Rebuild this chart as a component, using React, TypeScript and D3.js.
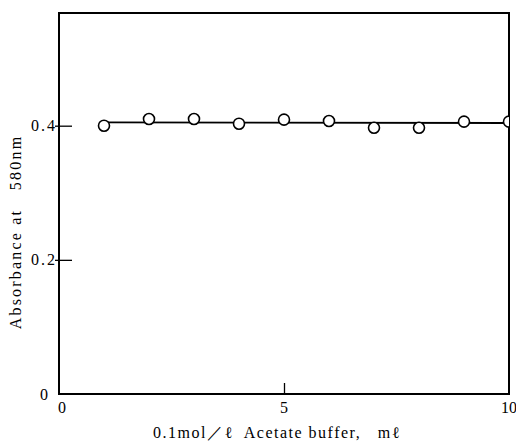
import React, { useEffect, useRef } from 'react';
import * as d3 from 'd3';

// buffer volume (ml) and absorbance at 580nm
const volumes = [1, 2, 3, 4, 5, 6, 7, 8, 9, 10];
const absorbance = [0.4, 0.41, 0.41, 0.403, 0.409, 0.407, 0.397, 0.397, 0.406, 0.406];
// fitted line end points
const fitX = [1, 10];
const fitY = [0.405, 0.404];
const xTicks = [0, 5, 10];
const yTicks = [0, 0.2, 0.4];
const yTickLabels = ['0', '0.2', '0.4'];

const App = () => {
  const svgRef = useRef(null);

  useEffect(() => {
    const width = 516;
    const height = 443;
    const margin = { top: 13, right: 7, bottom: 49, left: 59 };
    const svg = d3.select(svgRef.current);
    svg.selectAll('*').remove();
    svg.attr('width', width).attr('height', height);

    const x = d3.scaleLinear().domain([0, 10]).range([margin.left, width - margin.right]);
    const y = d3.scaleLinear().domain([0, 0.568]).range([height - margin.bottom, margin.top]);
    const font = '"Liberation Serif", "DejaVu Serif", serif';

    svg.append('defs').append('clipPath').attr('id', 'plot-clip')
      .append('rect')
      .attr('x', margin.left)
      .attr('y', margin.top)
      .attr('width', width - margin.left - margin.right)
      .attr('height', height - margin.top - margin.bottom);

    // frame
    svg.append('rect')
      .attr('x', margin.left)
      .attr('y', margin.top)
      .attr('width', width - margin.left - margin.right)
      .attr('height', height - margin.top - margin.bottom)
      .attr('fill', 'none')
      .attr('stroke', '#000')
      .attr('stroke-width', 2);

    // y ticks (inward)
    svg.append('g')
      .attr('transform', `translate(${margin.left},0)`)
      .call(d3.axisRight(y).tickValues(yTicks.slice(1)).tickSize(13).tickFormat(() => ''))
      .call(g => g.select('.domain').remove())
      .call(g => g.selectAll('line').attr('x1', -4).attr('stroke-width', 1.3));

    svg.append('g')
      .selectAll('text')
      .data(yTicks)
      .enter()
      .append('text')
      .attr('x', (d) => (d === 0 ? 50 : 57))
      .attr('y', (d) => y(d))
      .attr('dy', '0.35em')
      .attr('text-anchor', 'end')
      .attr('font-family', font)
      .attr('font-size', 16)
      .attr('letter-spacing', 2)
      .text((d, i) => yTickLabels[i]);

    // x ticks (inward)
    svg.append('g')
      .attr('transform', `translate(0,${height - margin.bottom})`)
      .call(d3.axisTop(x).tickValues([5]).tickSize(11).tickFormat(() => ''))
      .call(g => g.select('.domain').remove())
      .call(g => g.selectAll('line').attr('stroke-width', 1.3));

    svg.append('g')
      .selectAll('text')
      .data(xTicks)
      .enter()
      .append('text')
      .attr('x', (d) => (d === 0 ? x(d) + 3 : x(d)))
      .attr('y', height - margin.bottom + 19)
      .attr('text-anchor', 'middle')
      .attr('font-family', font)
      .attr('font-size', 16)
      .text((d) => String(d));

    // fitted line
    const line = d3.line<number>()
      .x((d) => x(d))
      .y((d, i) => y(fitY[i]));
    svg.append('path')
      .datum(fitX)
      .attr('d', line)
      .attr('fill', 'none')
      .attr('stroke', '#000')
      .attr('stroke-width', 1.8);

    // points
    svg.append('g')
      .attr('clip-path', 'url(#plot-clip)')
      .selectAll('circle')
      .data(volumes)
      .enter()
      .append('circle')
      .attr('cx', (d) => x(d))
      .attr('cy', (d, i) => y(absorbance[i]))
      .attr('r', 5.5)
      .attr('fill', '#fff')
      .attr('stroke', '#000')
      .attr('stroke-width', 1.6);

    // axis titles
    svg.append('text')
      .attr('x', 277)
      .attr('y', 438)
      .attr('text-anchor', 'middle')
      .attr('font-family', font)
      .attr('font-size', 16)
      .attr('letter-spacing', 1.5)
      .attr('xml:space', 'preserve')
      .text('0.1mol／ℓ  Acetate buffer,   mℓ');

    svg.append('text')
      .attr('transform', 'translate(21,232) rotate(-90)')
      .attr('text-anchor', 'middle')
      .attr('font-family', font)
      .attr('font-size', 16)
      .attr('letter-spacing', 2.2)
      .attr('xml:space', 'preserve')
      .text('Absorbance at   580nm');
  }, []);

  return <svg ref={svgRef} style={{ position: 'absolute', left: 0, top: 0 }}></svg>;
};

export default App;
